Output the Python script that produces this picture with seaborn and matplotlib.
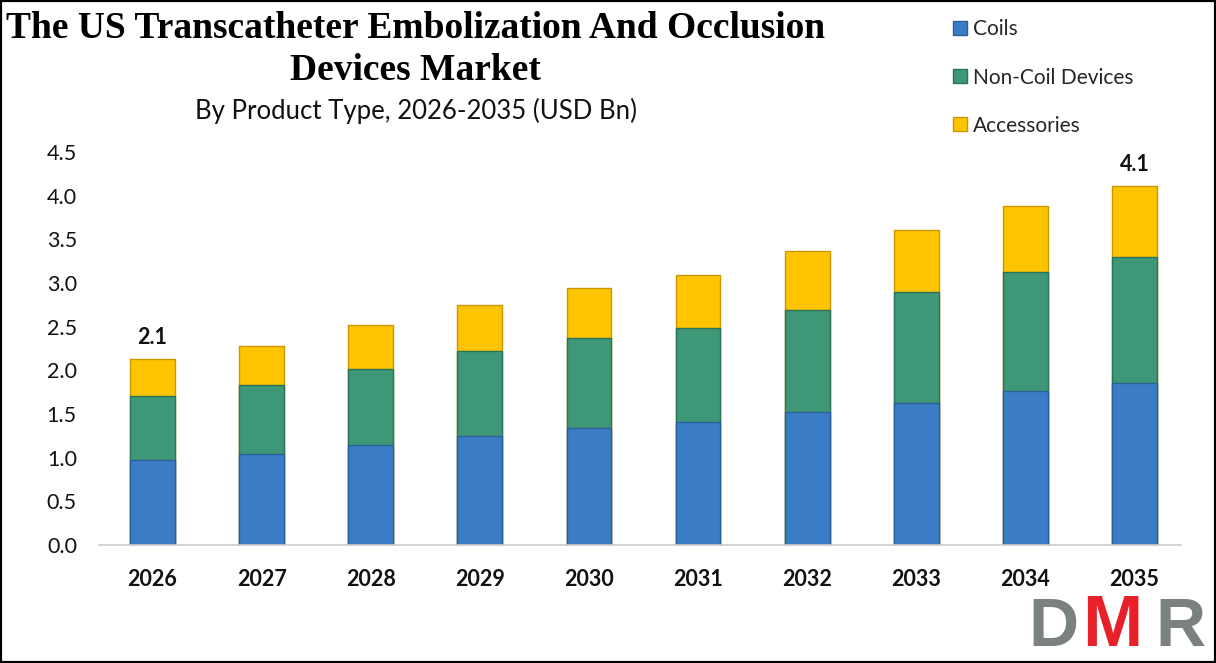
import matplotlib
matplotlib.use("Agg")
import matplotlib.pyplot as plt
import seaborn as sns
import pandas as pd
import numpy as np
from matplotlib.patches import Rectangle
from matplotlib.lines import Line2D

years = ["2026", "2027", "2028", "2029", "2030", "2031", "2032", "2033", "2034", "2035"]
coils = [0.97, 1.04, 1.15, 1.25, 1.34, 1.41, 1.52, 1.63, 1.76, 1.85]
non_coil = [0.74, 0.79, 0.87, 0.97, 1.03, 1.07, 1.17, 1.26, 1.36, 1.45]
accessories = [0.42, 0.45, 0.50, 0.53, 0.57, 0.61, 0.67, 0.71, 0.76, 0.81]
series_names = ["Coils", "Non-Coil Devices", "Accessories"]
end_labels = {"2026": "2.1", "2035": "4.1"}
yticks = [0.0, 0.5, 1.0, 1.5, 2.0, 2.5, 3.0, 3.5, 4.0, 4.5]

colors = ["#3A7DC6", "#3E9877", "#FFC400"]
edges = ["#2A5F9A", "#2B7257", "#C79800"]

sns.set_theme(style="white")
plt.rcParams["font.family"] = ["Lato", "DejaVu Sans"]

fig = plt.figure(figsize=(12.16, 6.63), dpi=100)
ax = fig.add_axes([0.0815, 0.178, 0.89, 0.593])

df = pd.DataFrame({"year": years, "c": coils, "n": non_coil, "a": accessories})
df["l1"] = df["c"]
df["l2"] = df["c"] + df["n"]
df["l3"] = df["l2"] + df["a"]

for col, color, edge in zip(["l3", "l2", "l1"], colors[::-1], edges[::-1]):
    sns.barplot(data=df, x="year", y=col, color=color, width=0.41, ax=ax,
                saturation=1, edgecolor=edge, linewidth=1.0)

ax.set_ylim(0, 4.5)
ax.set_xlim(-0.49, 9.43)
ax.set_yticks(yticks)
ax.set_yticklabels([f"{v:.1f}" for v in yticks], fontsize=15.5, color="#111111")
ax.set_xticks(range(len(years)))
ax.set_xticklabels(years, fontsize=15.5, fontweight="bold", color="#111111")
ax.tick_params(axis="y", pad=16, length=0)
ax.tick_params(axis="x", pad=17, length=0)
ax.set_xlabel("")
ax.set_ylabel("")
for s in ["top", "right", "left"]:
    ax.spines[s].set_visible(False)
ax.spines["bottom"].set_color("#CCCCCC")
ax.spines["bottom"].set_linewidth(1.2)

for i, y in enumerate(years):
    if y in end_labels:
        ax.text(i, df["l3"][i] + 0.13, end_labels[y], ha="center", va="bottom",
                fontsize=15.5, fontweight="bold", color="#111111")

handles = [Line2D([0], [0], marker="s", linestyle="", markersize=10,
                  markerfacecolor=c, markeredgecolor=e) for c, e in zip(colors, edges)]
fig.legend(handles, series_names, loc="upper left", bbox_to_anchor=(0.767, 0.999),
           frameon=False, fontsize=15, labelspacing=1.35, handletextpad=0.25,
           handlelength=0.8)

fig.text(0.342, 0.957, "The US Transcatheter Embolization And Occlusion",
         ha="center", va="center", fontsize=27, fontweight="bold",
         family=["Liberation Serif"], color="#000000")
fig.text(0.342, 0.893, "Devices Market",
         ha="center", va="center", fontsize=27, fontweight="bold",
         family=["Liberation Serif"], color="#000000")
fig.text(0.342, 0.833, "By Product Type, 2026-2035 (USD Bn)",
         ha="center", va="center", fontsize=18.5, color="#111111")

# DMR logo
fig.text(1053 / 1216, 17 / 663, "D", ha="center", va="baseline", fontsize=50, fontweight="bold",
         color="#7A8180", family=["Liberation Sans"])
fig.text(1112 / 1216, 17 / 663, "M", ha="center", va="baseline", fontsize=52, fontweight="bold",
         color="#E8202A", family=["Liberation Sans"])
fig.text(1180 / 1216, 17 / 663, "R", ha="center", va="baseline", fontsize=50, fontweight="bold",
         color="#7A8180", family=["Liberation Sans"])

fig.patches.append(Rectangle((0, 0), 1, 1, transform=fig.transFigure, fill=False,
                             edgecolor="black", linewidth=3, zorder=10))

fig.savefig("out.png", dpi=100)
